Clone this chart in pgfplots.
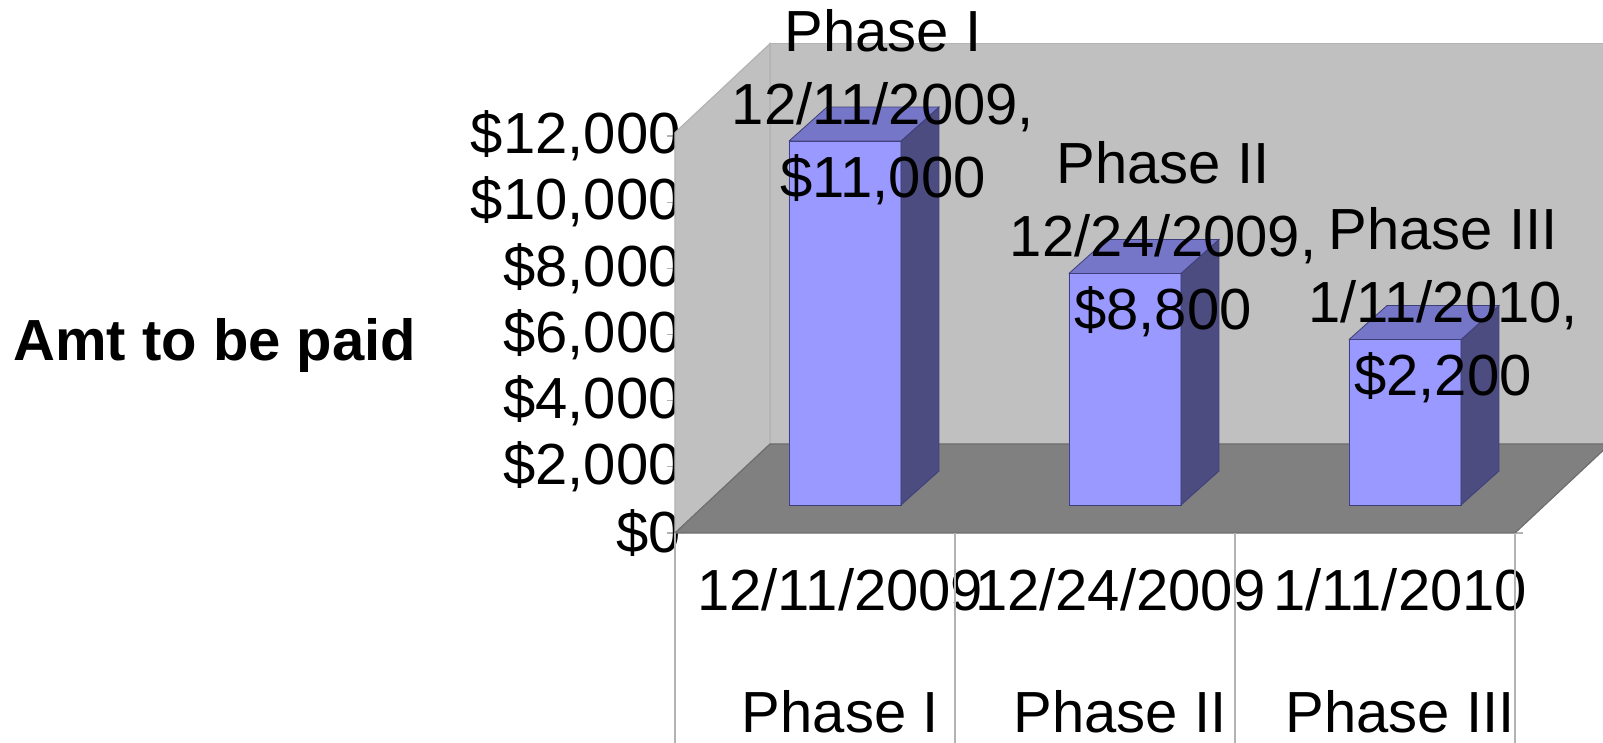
\documentclass[border=0pt]{standalone}
\usepackage{fontspec}
\setmainfont{Liberation Sans}
\usepackage{pgfplots}
\pgfplotsset{compat=1.18}
\definecolor{wall}{HTML}{C0C0C0}
\definecolor{wallline}{HTML}{B3B3B3}
\definecolor{floorc}{HTML}{808080}
\definecolor{floorline}{HTML}{6E6E6E}
\definecolor{barfront}{HTML}{9999FF}
\definecolor{bartop}{HTML}{7676C9}
\definecolor{barside}{HTML}{4C4C80}
\definecolor{baredge}{HTML}{3E3E7A}
\newcommand{\chartfont}{\fontsize{29bp}{36.5bp}\selectfont}
\tikzset{depthshift/.style={xshift=15bp, yshift=14bp}}
\begin{document}
\begin{tikzpicture}[font=\chartfont]
\begin{axis}[
  scale only axis, width=420bp, height=198.5bp,
  xmin=-0.5, xmax=2.5, ymin=0, ymax=12000,
  clip=false,
  scaled y ticks=false, scaled x ticks=false,
  axis line style={draw=none},
  every tick label/.append style={font=\chartfont},
  xtick={0.09,1.09,2.09},
  xticklabels={12/11/2009,12/24/2009,1/11/2010},
  xtick style={draw=none},
  xticklabel style={anchor=base, inner sep=0pt, yshift=-34.5bp},
  extra x ticks={0.09,1.09,2.09},
  extra x tick labels={Phase I,Phase II,Phase III},
  extra x tick style={xticklabel style={yshift=-61bp}, grid=none},
  ytick={0,2000,4000,6000,8000,10000,12000},
  yticklabels={{\$0},{\$2,000},{\$4,000},{\$6,000},{\$8,000},{\$10,000},{\$12,000}},
  ytick style={draw=wallline, line width=0.6bp},
  tick align=outside, major tick length=4bp,
  yticklabel style={anchor=east, inner sep=0pt, xshift=7bp},
]
% back wall, left wall, floor
\addplot[fill=wall, draw=wallline, line width=0.6bp] coordinates {(-0.1607,2690) (2.8393,2690) (2.8393,14790) (-0.1607,14790) (-0.1607,2690)};
\addplot[fill=wall, draw=wallline, line width=0.6bp] coordinates {(-0.5,0) (-0.1607,2690) (-0.1607,14790) (-0.5,12100) (-0.5,0)};
\addplot[fill=floorc, draw=floorline, line width=0.6bp] coordinates {(-0.5,0) (2.5,0) (2.8393,2690) (-0.1607,2690) (-0.5,0)};
% separators under the floor
\draw[wallline, line width=0.6bp] (axis cs:-0.5,0) -- (axis cs:-0.5,-6400);
\draw[wallline, line width=0.6bp] (axis cs:0.5,0) -- (axis cs:0.5,-6400);
\draw[wallline, line width=0.6bp] (axis cs:1.5,0) -- (axis cs:1.5,-6400);
\draw[wallline, line width=0.6bp] (axis cs:2.5,0) -- (axis cs:2.5,-6400);
% bars: front faces
\addplot[ybar, bar width=0.4, fill=barfront, draw=baredge, line width=0.4bp, depthshift] coordinates {(0,11000) (1,7000) (2,5000)};
% side faces
\addplot[fill=barside, draw=baredge, line width=0.4bp, depthshift] coordinates {(0.2,0) (0.3357,1028) (0.3357,12028) (0.2,11000) (0.2,0)};
\addplot[fill=barside, draw=baredge, line width=0.4bp, depthshift] coordinates {(1.2,0) (1.3357,1028) (1.3357,8028) (1.2,7000) (1.2,0)};
\addplot[fill=barside, draw=baredge, line width=0.4bp, depthshift] coordinates {(2.2,0) (2.3357,1028) (2.3357,6028) (2.2,5000) (2.2,0)};
% top faces
\addplot[fill=bartop, draw=baredge, line width=0.4bp, depthshift] coordinates {(-0.2,11000) (0.2,11000) (0.3357,12028) (-0.0643,12028) (-0.2,11000)};
\addplot[fill=bartop, draw=baredge, line width=0.4bp, depthshift] coordinates {(0.8,7000) (1.2,7000) (1.3357,8028) (0.9357,8028) (0.8,7000)};
\addplot[fill=bartop, draw=baredge, line width=0.4bp, depthshift] coordinates {(1.8,5000) (2.2,5000) (2.3357,6028) (1.9357,6028) (1.8,5000)};
% data labels
\node[depthshift, align=center, anchor=center, inner sep=0pt, yshift=0bp] at (axis cs:0.1357,12028) {Phase I\\12/11/2009,\\\$11,000};
\node[depthshift, align=center, anchor=center, inner sep=0pt, yshift=0bp] at (axis cs:1.1357,8028) {Phase II\\12/24/2009,\\\$8,800};
\node[depthshift, align=center, anchor=center, inner sep=0pt, yshift=0bp] at (axis cs:2.1357,6028) {Phase III\\1/11/2010,\\\$2,200};
% axis title
\node[anchor=base west, inner sep=0pt, font=\chartfont\bfseries] at (axis cs:-2.864,5229) {Amt to be paid};
\coordinate (bbsw) at (axis cs:-2.9107,-6347.6);
\coordinate (bbne) at (axis cs:2.8143,16110.8);
\end{axis}
\pgfresetboundingbox
\useasboundingbox (bbsw) rectangle (bbne);
\end{tikzpicture}
\end{document}
